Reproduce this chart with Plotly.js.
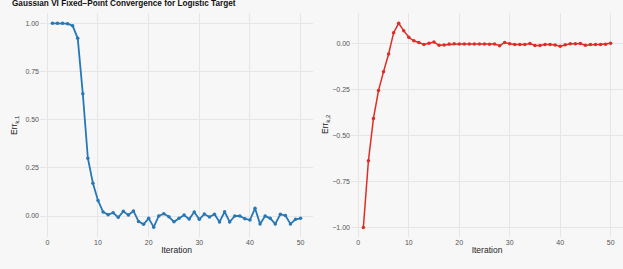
<!DOCTYPE html>
<html>
<head>
<meta charset="utf-8">
<script src="https://cdn.plot.ly/plotly-3.0.1.min.js"></script>
<style>html,body{margin:0;padding:0;background:#f7f7f7;}#chart{width:623px;height:269px;}</style>
</head>
<body>
<div id="chart"></div>
<script>
// Data
var iterations = [];
for (var i = 1; i <= 50; i++) iterations.push(i);

var err1 = [1.000, 1.000, 1.000, 0.998, 0.987, 0.922, 0.635, 0.300, 0.170, 0.081,
            0.021, 0.007, 0.017, -0.007, 0.024, 0.005, 0.026, -0.028, -0.043, -0.012,
            -0.058, 0.000, 0.012, -0.004, -0.030, -0.012, 0.005, -0.016, 0.021, -0.017,
            0.010, -0.005, 0.009, -0.031, 0.022, -0.031, 0.000, 0.000, -0.014, -0.021,
            0.040, -0.041, 0.000, -0.012, -0.041, 0.009, 0.003, -0.041, -0.017, -0.012];

var err2 = [-1.000, -0.637, -0.407, -0.256, -0.153, -0.057, 0.059, 0.110, 0.070, 0.034,
            0.015, 0.006, -0.005, 0.001, 0.008, -0.010, -0.008, -0.003, -0.002, -0.003,
            -0.003, -0.003, -0.003, -0.003, -0.003, -0.004, -0.003, -0.012, 0.005, -0.001,
            -0.006, -0.006, -0.006, 0.000, -0.011, -0.011, -0.006, -0.006, -0.008, -0.015,
            -0.007, -0.002, -0.002, 0.000, -0.010, -0.006, -0.006, -0.006, -0.004, 0.001];

var xTicks = [0, 10, 20, 30, 40, 50];
var y1Ticks = [0, 0.25, 0.5, 0.75, 1.0];
var y2Ticks = [-1.0, -0.75, -0.5, -0.25, 0];

var titleText = 'Gaussian VI Fixed\u2212Point Convergence for Logistic Target';
var blue = '#2878b5';
var red = '#de2d26';
var W = 623, H = 269;

var traces = [
  {x: iterations, y: err1, type: 'scatter', mode: 'lines+markers', xaxis: 'x', yaxis: 'y',
   line: {color: blue, width: 1.8}, marker: {color: blue, size: 3.5}, hoverinfo: 'none'},
  {x: iterations, y: err2, type: 'scatter', mode: 'lines+markers', xaxis: 'x2', yaxis: 'y2',
   line: {color: red, width: 1.5}, marker: {color: red, size: 3.5}, hoverinfo: 'none'}
];

var font = 'Liberation Sans, Arial, sans-serif';
function xax(domain, anchor) {
  return {domain: domain, anchor: anchor, range: [-1.45, 52.45], tickvals: xTicks,
    showgrid: true, gridcolor: '#e6e6e6', gridwidth: 1, zeroline: false, showline: false,
    ticks: '', tickfont: {size: 7, color: '#555', family: font},
    title: {text: 'Iteration', font: {size: 8.5, color: '#222', family: font}, standoff: 2}};
}
function yax(domain, anchor, range, ticks, stand) {
  return {domain: domain, anchor: anchor, range: range, tickvals: ticks, tickformat: '.2f',
    showgrid: true, gridcolor: '#e6e6e6', gridwidth: 1, zeroline: false, showline: false,
    ticks: '', tickfont: {size: 7, color: '#555', family: font}};
}

var yDom = [1 - 237 / H, 1 - 13 / H];
var layout = {
  width: W, height: H,
  margin: {l: 0, r: 0, t: 0, b: 0},
  paper_bgcolor: '#f7f7f7', plot_bgcolor: '#f7f7f7',
  showlegend: false,
  font: {family: font},
  title: {text: '<b>' + titleText + '</b>', x: 12 / W, xanchor: 'left', xref: 'paper',
          y: 1 - 3 / H, yanchor: 'middle', yref: 'paper',
          font: {size: 8.2, color: '#111', family: font}},
  xaxis: xax([40 / W, 313 / W], 'y'),
  yaxis: yax(yDom, 'x', [-0.109, 1.0534], y1Ticks),
  xaxis2: xax([351 / W, 1.0], 'y2'),
  yaxis2: yax(yDom, 'x2', [-1.0516, 0.1658], y2Ticks),
  annotations: [
    {text: 'Err<sub>k,1</sub>', xref: 'paper', yref: 'paper', x: 14 / W, y: 1 - 125 / H,
     xanchor: 'center', yanchor: 'middle', textangle: -90, showarrow: false,
     font: {size: 8.5, color: '#222', family: font}},
    {text: 'Err<sub>k,2</sub>', xref: 'paper', yref: 'paper', x: 325 / W, y: 1 - 125 / H,
     xanchor: 'center', yanchor: 'middle', textangle: -90, showarrow: false,
     font: {size: 8.5, color: '#222', family: font}}
  ]
};

Plotly.newPlot('chart', traces, layout, {displayModeBar: false, staticPlot: true});
</script>
</body>
</html>
